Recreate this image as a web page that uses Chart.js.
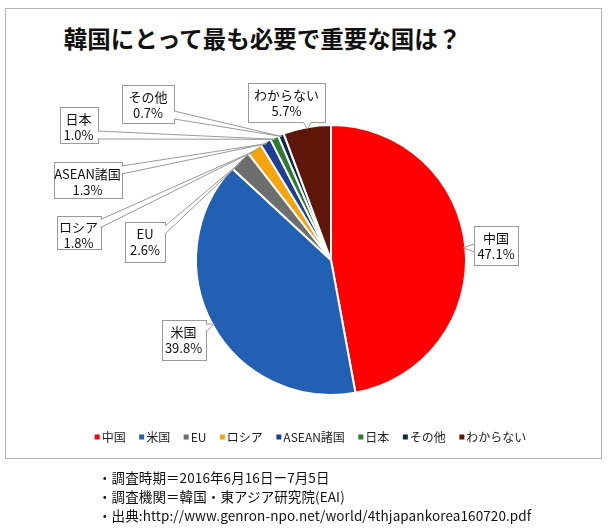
<!DOCTYPE html>
<html>
<head>
<meta charset="utf-8">
<script src="https://cdn.jsdelivr.net/npm/chart.js@4"></script>
<style>
  body { margin: 0; background: #fff; font-family: "Noto Sans CJK JP", sans-serif; }
  #frame { position: absolute; left: 5px; top: 8px; width: 595px; height: 449px; border: 1px solid #b4b4b4; }
  #title { position: absolute; left: 0; width: 525px; top: 22px; text-align: center; font-size: 23.5px; font-weight: bold; color: #111; line-height: 32px; }
  #wrap { position: absolute; left: 0; top: 0; width: 613px; height: 532px; }
  #notes { position: absolute; left: 98px; top: 468px; font-size: 13.5px; line-height: 19px; color: #111; letter-spacing: 0.1px; }
</style>
</head>
<body>
<div id="frame"></div>
<div id="title">韓国にとって最も必要で重要な国は？</div>
<div id="wrap"><canvas id="PieChart" width="613" height="532"></canvas></div>
<div id="notes">
  <div>・調査時期＝2016年6月16日ー7月5日</div>
  <div>・調査機関＝韓国・東アジア研究院(EAI)</div>
  <div>・出典:http://www.genron-npo.net/world/4thjapankorea160720.pdf</div>
</div>
<script>
const categories = ["中国", "米国", "EU", "ロシア", "ASEAN諸国", "日本", "その他", "わからない"];
const shares = [47.1, 39.8, 2.6, 1.8, 1.3, 1.0, 0.7, 5.7];
const colors = ["#ff0000", "#2260b4", "#6e6e6e", "#f5a40c", "#1f3f96", "#2e7a2e", "#0e2a45", "#5e1608"];

// callout boxes (centre x, centre y, width, height) - layout only
const boxX = [496, 183.5, 145, 78.5, 87.5, 78.5, 148, 286.5];
const boxY = [245.5, 340, 242, 232, 180, 125, 104, 102.5];
const boxW = [44, 44, 40, 44, 68, 38, 52, 77];
const boxH = [39, 40, 40, 33, 36, 36, 38, 39];

const FONT = '13px "Noto Sans CJK JP"';

const calloutPlugin = {
  id: "callouts",
  afterDatasetsDraw(chart) {
    const ctx = chart.ctx;
    const arcs = chart.getDatasetMeta(0).data;
    ctx.save();
    ctx.font = FONT;
    ctx.textAlign = "center";
    ctx.textBaseline = "middle";
    arcs.forEach(function (arc, i) {
      const mid = (arc.startAngle + arc.endAngle) / 2;
      const r = arc.outerRadius - 2;
      const tip = { x: arc.x + Math.cos(mid) * r, y: arc.y + Math.sin(mid) * r };
      const left = boxX[i] - boxW[i] / 2, right = boxX[i] + boxW[i] / 2;
      const top = boxY[i] - boxH[i] / 2, bottom = boxY[i] + boxH[i] / 2;

      // box
      ctx.fillStyle = "#fff";
      ctx.strokeStyle = "#9a9a9a";
      ctx.lineWidth = 1;
      ctx.fillRect(left, top, boxW[i], boxH[i]);
      ctx.strokeRect(Math.round(left) + 0.5, Math.round(top) + 0.5, boxW[i], boxH[i]);

      // tail
      const dx = (tip.x - boxX[i]) / (boxW[i] / 2);
      const dy = (tip.y - boxY[i]) / (boxH[i] / 2);
      let b1, b2;
      if (Math.abs(dx) > Math.abs(dy)) {
        const ex = dx > 0 ? right : left;
        const cy = Math.min(Math.max(tip.y, top + 8), bottom - 8);
        b1 = { x: ex, y: cy - 4 }; b2 = { x: ex, y: cy + 4 };
      } else {
        const ey = dy > 0 ? bottom : top;
        const cx = Math.min(Math.max(tip.x, left + 8), right - 8);
        b1 = { x: cx - 4, y: ey }; b2 = { x: cx + 4, y: ey };
      }
      ctx.beginPath();
      ctx.moveTo(b1.x, b1.y);
      ctx.lineTo(tip.x, tip.y);
      ctx.lineTo(b2.x, b2.y);
      ctx.closePath();
      ctx.fill();
      ctx.beginPath();
      ctx.moveTo(b1.x, b1.y);
      ctx.lineTo(tip.x, tip.y);
      ctx.lineTo(b2.x, b2.y);
      ctx.stroke();

      // text
      ctx.fillStyle = "#111";
      ctx.fillText(categories[i], boxX[i], top + 12);
      ctx.fillText(shares[i].toFixed(1) + "%", boxX[i], top + 28);
    });
    ctx.restore();
  },
  afterDraw(chart) {
    // legend row under the pie
    const ctx = chart.ctx;
    ctx.save();
    ctx.font = '12px "Noto Sans CJK JP"';
    ctx.textBaseline = "middle";
    ctx.textAlign = "left";
    const gap = 12.5;
    const widths = categories.map(function (c) { return 8 + ctx.measureText(c).width; });
    const total = widths.reduce(function (a, b) { return a + b; }, 0) + gap * (categories.length - 1);
    let x = 311 - total / 2;
    const y = 437;
    categories.forEach(function (c, i) {
      ctx.fillStyle = colors[i];
      ctx.fillRect(x, y - 2.5, 5, 5);
      ctx.fillStyle = "#222";
      ctx.fillText(c, x + 7, y);
      x += widths[i] + gap;
    });
    ctx.restore();
  }
};

new Chart(document.getElementById("PieChart"), {
  type: "pie",
  data: {
    labels: categories,
    datasets: [
      {
        data: shares,
        backgroundColor: colors,
        borderColor: "#ffffff",
        borderWidth: 2,
      },
    ],
  },
  options: {
    responsive: false,
    animation: false,
    layout: { padding: { left: 195, right: 146, top: 124, bottom: 136 } },
    plugins: {
      legend: { display: false },
      tooltip: { enabled: false },
    },
  },
  plugins: [calloutPlugin],
});
</script>
</body>
</html>
